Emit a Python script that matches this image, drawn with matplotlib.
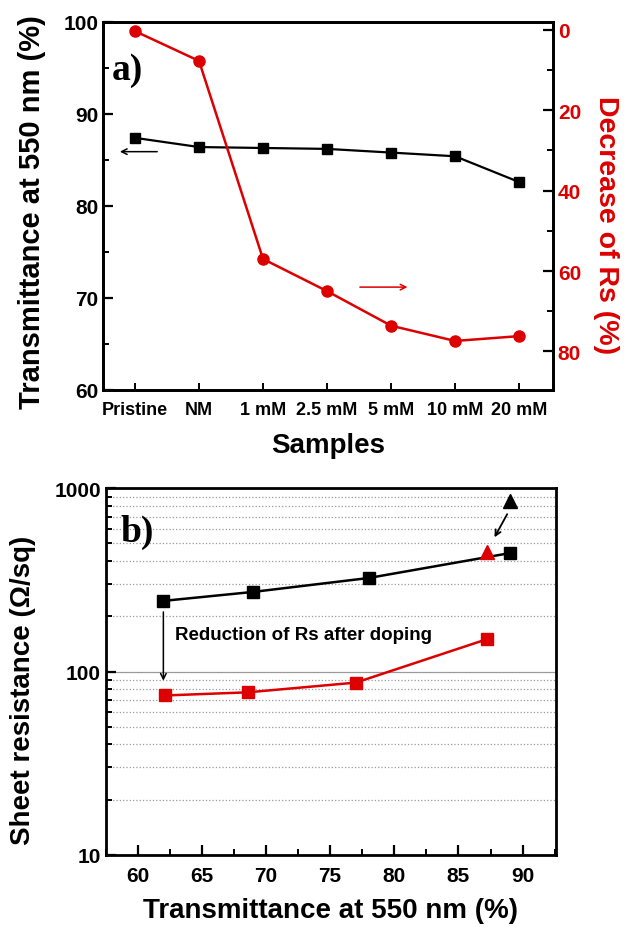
import numpy as np
import matplotlib
matplotlib.use("Agg")
import matplotlib.pyplot as plt
from matplotlib.ticker import MultipleLocator, LogLocator, FuncFormatter, NullFormatter

plt.rcParams['font.family'] = ['Liberation Sans', 'DejaVu Sans']
plt.rcParams['font.weight'] = 'bold'
plt.rcParams['axes.labelweight'] = 'bold'

RED = '#dd0000'

# panel a data
samples = ['Pristine', 'NM', '1 mM', '2.5 mM', '5 mM', '10 mM', '20 mM']
transmittance = [87.4, 86.4, 86.3, 86.2, 85.8, 85.4, 82.6]
rs_decrease = [0.3, 7.7, 57.0, 65.0, 73.6, 77.4, 76.2]

# panel b data
undoped_T = [62.0, 69.0, 78.0, 89.0]
undoped_Rs = [243, 272, 324, 443]
doped_T = [62.1, 68.6, 77.0, 87.2]
doped_Rs = [74, 77, 87, 150]
tri_red_T, tri_red_Rs = 87.2, 450
tri_black_T, tri_black_Rs = 89.0, 850

fig = plt.figure(figsize=(6.25, 9.28), dpi=100)

# ---------- a) ----------
ax = fig.add_axes([0.1648, 0.5787, 0.72, 0.3966])
ind = np.arange(len(samples))
ax.plot(ind, transmittance, color='black', lw=1.6, marker='s', ms=6.5, zorder=3)
ax.set_xlim(-0.5, 6.53)
ax.set_ylim(60, 100)
ax.set_xticks(ind)
ax.set_xticklabels(samples, fontsize=13)
ax.yaxis.set_major_locator(MultipleLocator(10))
ax.yaxis.set_minor_locator(MultipleLocator(5))
ax.tick_params(axis='y', which='major', direction='in', length=7, width=1.6, labelsize=15)
ax.tick_params(axis='y', which='minor', direction='in', length=4, width=1.4)
ax.tick_params(axis='x', direction='in', length=5, width=1.4, pad=8)
ax.set_ylabel('Transmittance at 550 nm (%)', fontsize=21, va='center')
ax.yaxis.set_label_coords(-0.158, 0.486)
ax.set_xlabel('Samples', fontsize=20, labelpad=10)
for s in ax.spines.values():
    s.set_linewidth(2)

ax2 = ax.twinx()
ax2.plot(ind, rs_decrease, color=RED, lw=1.8, marker='o', ms=8, zorder=3)
ax2.set_ylim(89.6, -2)
ax2.yaxis.set_major_locator(MultipleLocator(20))
ax2.yaxis.set_minor_locator(MultipleLocator(10))
ax2.tick_params(axis='y', which='major', direction='in', length=7, width=1.6,
                labelsize=15, labelcolor=RED, color='black')
ax2.tick_params(axis='y', which='minor', direction='in', length=4, width=1.4)
ax2.set_ylabel('Decrease of Rs (%)', fontsize=20.5, color=RED, rotation=270,
               va='center')
ax2.yaxis.set_label_coords(1.118, 0.451)
for s in ax2.spines.values():
    s.set_linewidth(2)

ax.annotate('', xy=(-0.28, 85.9), xytext=(0.39, 85.9),
            arrowprops=dict(arrowstyle='->', color='black', lw=1.1))
ax2.annotate('', xy=(4.3, 64.0), xytext=(3.47, 64.0),
             arrowprops=dict(arrowstyle='->', color=RED, lw=1.1))
ax.text(0.02, 0.87, 'a)', transform=ax.transAxes, fontsize=27, fontweight='bold',
        family='Liberation Serif', ha='left', va='center')

# ---------- b) ----------
bx = fig.add_axes([0.169, 0.0779, 0.7206, 0.3948])
bx.set_yscale('log')
bx.set_ylim(10, 1000)
bx.set_xlim(57.5, 92.6)
bx.yaxis.grid(True, which='minor', ls=':', color='#9a9a9a', lw=0.9)
bx.yaxis.grid(True, which='major', ls='-', color='#9a9a9a', lw=0.9)
bx.set_axisbelow(True)
bx.plot(undoped_T, undoped_Rs, color='black', lw=1.8, marker='s', ms=9, zorder=3)
bx.plot(doped_T, doped_Rs, color=RED, lw=1.8, marker='s', ms=9, zorder=3)
bx.plot([tri_red_T], [tri_red_Rs], color=RED, marker='^', ms=10, ls='none', zorder=4)
bx.plot([tri_black_T], [tri_black_Rs], color='black', marker='^', ms=10, ls='none', zorder=4)
bx.annotate('', xy=(62.0, 86), xytext=(62.0, 219),
            arrowprops=dict(arrowstyle='->', color='black', lw=1.1))
bx.annotate('', xy=(87.7, 524), xytext=(88.9, 745),
            arrowprops=dict(arrowstyle='->', color='black', lw=1.3))
bx.text(62.9, 160, 'Reduction of Rs after doping', fontsize=13.5, fontweight='bold',
        ha='left', va='center')
bx.xaxis.set_major_locator(MultipleLocator(5))
bx.xaxis.set_minor_locator(MultipleLocator(2.5))
bx.yaxis.set_major_locator(LogLocator(base=10))
bx.yaxis.set_minor_locator(LogLocator(base=10, subs=np.arange(2, 10)))
bx.yaxis.set_major_formatter(FuncFormatter(lambda v, p: '%d' % v))
bx.yaxis.set_minor_formatter(NullFormatter())
bx.tick_params(axis='both', which='major', direction='in', length=7, width=1.6, labelsize=15)
bx.tick_params(axis='both', which='minor', direction='in', length=4, width=1.4)
bx.tick_params(axis='x', pad=8)
bx.set_ylabel('Sheet resistance (\u03a9/sq)', fontsize=20, va='center')
bx.yaxis.set_label_coords(-0.183, 0.452)
bx.set_xlabel('Transmittance at 550 nm (%)', fontsize=20, labelpad=9)
for s in bx.spines.values():
    s.set_linewidth(2)
bx.text(0.032, 0.883, 'b)', transform=bx.transAxes, fontsize=27, fontweight='bold',
        family='Liberation Serif', ha='left', va='center')

fig.savefig('out.png', dpi=100)
